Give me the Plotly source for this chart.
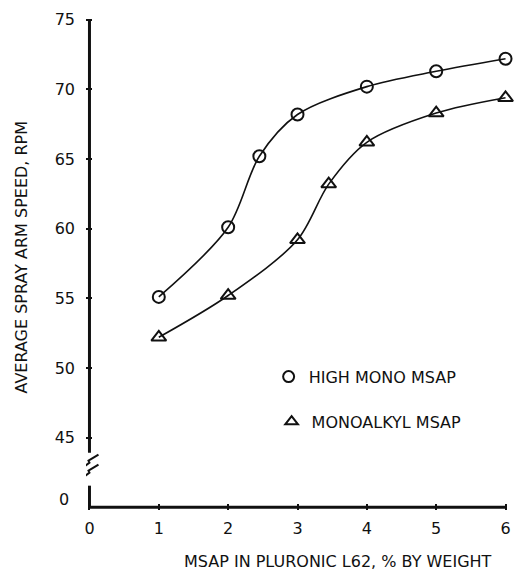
import plotly.graph_objects as go

# ---- data ----
hm_x = [1, 2, 2.45, 3, 4, 5, 6]
hm_y = [55.1, 60.1, 65.2, 68.2, 70.2, 71.3, 72.2]
ma_x = [1, 2, 3, 3.45, 4, 5, 6]
ma_y = [52.2, 55.2, 59.2, 63.2, 66.2, 68.3, 69.4]

x_ticks = [0, 1, 2, 3, 4, 5, 6]
y_ticks = [45, 50, 55, 60, 65, 70, 75]
y_ticktext = ["45", "50", "55", "60", "65", "70", "75"]

series_names = ["HIGH MONO MSAP", "MONOALKYL MSAP"]

FONT = "DejaVu Sans, Verdana, sans-serif"
FS = 16
INK = "#111111"

W, H = 516, 571
PXX = 69.67          # pixels per x unit
PXY = 13.93          # pixels per y unit
X0, X1 = -0.05, 6.05
Y0, Y1 = 39.8, 75.2
L = 89 - (0 - X0) * PXX
PW = (X1 - X0) * PXX
T = 20 - (Y1 - 75) * PXY
PH = (Y1 - Y0) * PXY
R = W - L - PW
B = H - T - PH


def px_to_y(py):
    return 75 - (py - 20) / PXY


def px_to_paper_x(px):
    return (px - L) / PW


def px_to_paper_y(py):
    return (T + PH - py) / PH


fig = go.Figure()

fig.add_trace(go.Scatter(
    x=hm_x, y=hm_y, mode="lines+markers", showlegend=False,
    line=dict(color=INK, width=1.6, shape="spline", smoothing=0.9),
    marker=dict(symbol="circle-open", size=12, color=INK, line=dict(width=2)),
    cliponaxis=False,
))
fig.add_trace(go.Scatter(
    x=ma_x, y=ma_y, mode="lines+markers", showlegend=False,
    line=dict(color=INK, width=1.6, shape="spline", smoothing=0.9),
    marker=dict(symbol="triangle-up-open", size=13, color=INK, line=dict(width=2)),
    cliponaxis=False,
))
# legend-only entries (markers only)
fig.add_trace(go.Scatter(
    x=[None], y=[None], mode="markers", name=series_names[0], legend="legend",
    marker=dict(symbol="circle-open", size=11, color=INK, line=dict(width=2)),
))
fig.add_trace(go.Scatter(
    x=[None], y=[None], mode="markers", name=series_names[1], legend="legend2",
    marker=dict(symbol="triangle-up-open", size=11, color=INK, line=dict(width=2)),
))

# axis lines (y axis broken)
fig.add_shape(type="line", xref="x", yref="y", x0=0, x1=0, y0=75, y1=px_to_y(453),
              line=dict(color=INK, width=3))
fig.add_shape(type="line", xref="x", yref="y", x0=0, x1=0, y0=px_to_y(486), y1=40,
              line=dict(color=INK, width=3))
fig.add_shape(type="line", xref="x", yref="y", x0=0, x1=6, y0=40, y1=40,
              line=dict(color=INK, width=3))

# break symbol
y_mid = px_to_y(469)
for off in (5, -5):
    fig.add_shape(
        type="path", xref="x", yref="y", xsizemode="pixel", ysizemode="pixel",
        xanchor=0, yanchor=y_mid,
        path=f"M -8 {-5+off} L 0 {1+off} L -1 {3+off} L 9 {9+off}",
        line=dict(color=INK, width=2),
    )

fig.update_xaxes(
    range=[X0, X1], showline=False, showgrid=False, zeroline=False,
    tickvals=x_ticks, ticktext=[str(v) for v in x_ticks],
    ticks="inside", ticklen=6, tickwidth=1.5, tickcolor=INK,
    ticklabelstandoff=7,
    tickfont=dict(family=FONT, size=FS, color=INK),
)
fig.update_yaxes(
    range=[Y0, Y1], showline=False, showgrid=False, zeroline=False,
    tickvals=y_ticks, ticktext=y_ticktext,
    ticks="inside", ticklen=6, tickwidth=1.5, tickcolor=INK,
    ticklabelstandoff=10,
    tickfont=dict(family=FONT, size=FS, color=INK),
)

fig.add_annotation(xref="paper", yref="y", x=px_to_paper_x(70), y=px_to_y(500),
                   xanchor="right", yanchor="middle", text="0", showarrow=False,
                   font=dict(family=FONT, size=FS, color=INK))
fig.add_annotation(xref="paper", yref="paper", x=px_to_paper_x(339), y=px_to_paper_y(562),
                   xanchor="center", yanchor="middle",
                   text="MSAP IN PLURONIC L62, % BY WEIGHT", showarrow=False,
                   font=dict(family=FONT, size=FS, color=INK))
fig.add_annotation(xref="paper", yref="paper", x=px_to_paper_x(21), y=px_to_paper_y(257),
                   xanchor="center", yanchor="middle", textangle=-90,
                   text="AVERAGE SPRAY ARM SPEED, RPM", showarrow=False,
                   font=dict(family=FONT, size=FS, color=INK))

legend_common = dict(xanchor="left", yanchor="middle", bgcolor="rgba(0,0,0,0)",
                     borderwidth=0, font=dict(family=FONT, size=FS, color=INK),
                     itemwidth=30)
fig.update_layout(
    width=W, height=H,
    margin=dict(l=L, r=R, t=T, b=B),
    paper_bgcolor="white", plot_bgcolor="white",
    legend=dict(x=px_to_paper_x(269), y=px_to_paper_y(377), **legend_common),
    legend2=dict(x=px_to_paper_x(272), y=px_to_paper_y(422), **legend_common),
)

fig.write_html("out.html")
